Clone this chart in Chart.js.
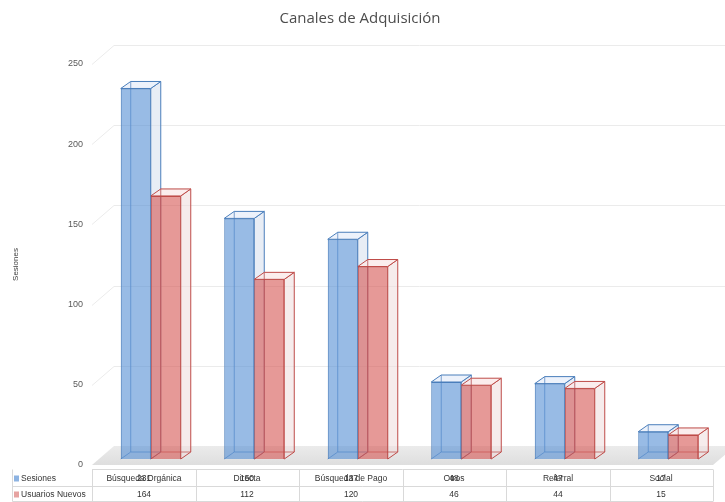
<!DOCTYPE html>
<html>
<head>
<meta charset="utf-8">
<script src="https://cdn.jsdelivr.net/npm/chart.js@4"></script>
<style>
  html, body { margin: 0; padding: 0; background: #fff; }
  #wrap { width: 725px; height: 502px; position: relative; }
</style>
</head>
<body>
<div id="wrap"><canvas id="c"></canvas></div>
<script>
// Acquisition channels: sessions and new users per channel
const categories = ['Búsqueda Orgánica', 'Directa', 'Búsqueda de Pago', 'Otros', 'Referral', 'Social'];
const sesiones = [231, 150, 137, 48, 47, 17];
const usuariosNuevos = [164, 112, 120, 46, 44, 15];
const yTicks = [0, 50, 100, 150, 200, 250];
const seriesNames = ['Sesiones', 'Usuarios Nuevos'];

// 3D look: depth of the floor/back wall, depth of each bar, and how far
// into the floor the row of bars sits.
const WALL = { dx: 22, dy: -19 };
const BOX = { dx: 10, dy: -7 };
const ROW = { dx: 7, dy: -6 };

const faceStyles = [
  { side: 'rgba(214,222,236,0.55)', top: 'rgba(234,240,250,0.85)', edge: '#4a7ebb' },
  { side: 'rgba(238,220,220,0.55)', top: 'rgba(250,234,234,0.85)', edge: '#be4b48' }
];

function barBoxes(chart) {
  const out = [];
  chart.data.datasets.forEach((ds, i) => {
    const meta = chart.getDatasetMeta(i);
    meta.data.forEach(bar => {
      const p = bar.getProps(['x', 'y', 'base', 'width'], true);
      out.push({ i, l: p.x - p.width / 2, r: p.x + p.width / 2, t: p.y, b: p.base });
    });
  });
  return out;
}

const scene3d = {
  id: 'scene3d',
  beforeDatasetsDraw(chart) {
    const { ctx, chartArea: a, scales: { y } } = chart;
    const y0 = y.getPixelForValue(0);
    ctx.save();
    // floor
    const fr = a.right;
    const grad = ctx.createLinearGradient(0, y0 + WALL.dy, 0, y0);
    grad.addColorStop(0, '#ebebeb');
    grad.addColorStop(1, '#dedede');
    ctx.fillStyle = grad;
    ctx.beginPath();
    ctx.moveTo(a.left, y0);
    ctx.lineTo(fr, y0);
    ctx.lineTo(fr + WALL.dx, y0 + WALL.dy);
    ctx.lineTo(a.left + WALL.dx, y0 + WALL.dy);
    ctx.closePath();
    ctx.fill();
    // back-wall gridlines running from each tick into the depth
    ctx.strokeStyle = '#ebebeb';
    ctx.lineWidth = 1;
    yTicks.forEach(v => {
      if (v === 0) return;
      const py = Math.round(y.getPixelForValue(v)) + 0.5;
      ctx.beginPath();
      ctx.moveTo(a.left, py);
      ctx.lineTo(a.left + WALL.dx, py + WALL.dy);
      ctx.lineTo(chart.width, py + WALL.dy);
      ctx.stroke();
    });
    // hidden faces and edges of each bar, seen through the front
    ctx.translate(ROW.dx, ROW.dy);
    barBoxes(chart).forEach(bx => {
      const s = faceStyles[bx.i];
      ctx.lineWidth = 1;
      ctx.strokeStyle = s.edge;
      // side face
      ctx.fillStyle = s.side;
      ctx.beginPath();
      ctx.moveTo(bx.r, bx.t);
      ctx.lineTo(bx.r + BOX.dx, bx.t + BOX.dy);
      ctx.lineTo(bx.r + BOX.dx, bx.b + BOX.dy);
      ctx.lineTo(bx.r, bx.b);
      ctx.closePath();
      ctx.fill();
      ctx.stroke();
      // top face
      ctx.fillStyle = s.top;
      ctx.beginPath();
      ctx.moveTo(bx.l, bx.t);
      ctx.lineTo(bx.l + BOX.dx, bx.t + BOX.dy);
      ctx.lineTo(bx.r + BOX.dx, bx.t + BOX.dy);
      ctx.lineTo(bx.r, bx.t);
      ctx.closePath();
      ctx.fill();
      ctx.stroke();
      // back edges
      ctx.globalAlpha = 0.7;
      ctx.beginPath();
      ctx.moveTo(bx.l + BOX.dx, bx.t + BOX.dy);
      ctx.lineTo(bx.l + BOX.dx, bx.b + BOX.dy);
      ctx.lineTo(bx.r + BOX.dx, bx.b + BOX.dy);
      ctx.moveTo(bx.l, bx.b);
      ctx.lineTo(bx.l + BOX.dx, bx.b + BOX.dy);
      ctx.stroke();
      ctx.globalAlpha = 1;
    });
    ctx.restore();
    // front faces are drawn by Chart.js in the same shifted row
    ctx.save();
    ctx.translate(ROW.dx, ROW.dy);
  },
  afterDatasetsDraw(chart) {
    chart.ctx.restore();
  }
};

// Data table under the plot: header of channels + one row per series
const dataTable = {
  id: 'dataTable',
  afterDraw(chart) {
    const { ctx, chartArea: a, scales: { x } } = chart;
    const n = categories.length;
    const colW = (a.right - a.left) / n;
    const top = 469.5, mid = 486.5, bot = 501.5, legendLeft = 12.5;
    ctx.save();
    ctx.strokeStyle = '#d9d9d9';
    ctx.lineWidth = 1;
    ctx.beginPath();
    ctx.moveTo(a.left, top); ctx.lineTo(a.right, top);
    ctx.moveTo(legendLeft, top); ctx.lineTo(legendLeft, bot);
    ctx.moveTo(legendLeft, mid); ctx.lineTo(a.right, mid);
    ctx.moveTo(legendLeft, bot); ctx.lineTo(a.right, bot);
    for (let i = 0; i <= n; i++) {
      const cx = Math.round(x.getPixelForValue(0) - colW / 2 + i * colW) + 0.5;
      ctx.moveTo(cx, top); ctx.lineTo(cx, bot);
    }
    ctx.stroke();

    ctx.font = '8.5px "Liberation Sans"';
    ctx.textBaseline = 'middle';
    const rows = [sesiones, usuariosNuevos];
    const rowY = [478.5, 494.5];
    const colors = ['#8db3e2', '#e6a3a1'];
    rows.forEach((vals, r) => {
      ctx.fillStyle = colors[r];
      ctx.fillRect(14, rowY[r] - 3, 5, 6);
      ctx.fillStyle = '#333333';
      ctx.textAlign = 'left';
      ctx.fillText(seriesNames[r], 21, rowY[r]);
      ctx.textAlign = 'center';
      vals.forEach((v, i) => {
        const cx = Math.round(x.getPixelForValue(i));
        if (r === 0) ctx.fillText(categories[i], cx, rowY[r]);
        ctx.fillText(String(v), cx, rowY[r]);
      });
    });
    ctx.restore();
  }
};

new Chart(document.getElementById('c'), {
  type: 'bar',
  data: {
    labels: categories,
    datasets: [
      {
        label: seriesNames[0],
        data: sesiones,
        backgroundColor: 'rgba(84,141,212,0.6)',
        borderColor: '#4a7ebb',
        borderWidth: 1,
        clip: false
      },
      {
        label: seriesNames[1],
        data: usuariosNuevos,
        backgroundColor: 'rgba(214,85,82,0.6)',
        borderColor: '#be4b48',
        borderWidth: 1,
        clip: false
      }
    ]
  },
  options: {
    responsive: true,
    maintainAspectRatio: false,
    animation: false,
    layout: { padding: { left: 7, right: 12, bottom: 37, top: 0 } },
    datasets: { bar: { categoryPercentage: 0.58, barPercentage: 1.0 } },
    plugins: {
      legend: { display: false },
      tooltip: { enabled: false },
      title: {
        display: true,
        text: 'Canales de Adquisición',
        color: '#4d4d4d',
        font: { family: '"Open Sans"', size: 15, weight: '500' },
        padding: { top: 10, bottom: 36 }
      }
    },
    scales: {
      x: { display: false },
      y: {
        min: 0,
        max: 250,
        afterFit(scale) { scale.width = 85; },
        ticks: {
          stepSize: 50,
          color: '#595959',
          padding: 9,
          font: { family: '"Liberation Sans"', size: 9 }
        },
        grid: { display: false, drawTicks: false },
        border: { display: false },
        title: {
          display: true,
          text: 'Sesiones',
          color: '#404040',
          font: { family: '"Liberation Sans"', size: 8 }
        }
      }
    }
  },
  plugins: [scene3d, dataTable]
});
</script>
</body>
</html>
